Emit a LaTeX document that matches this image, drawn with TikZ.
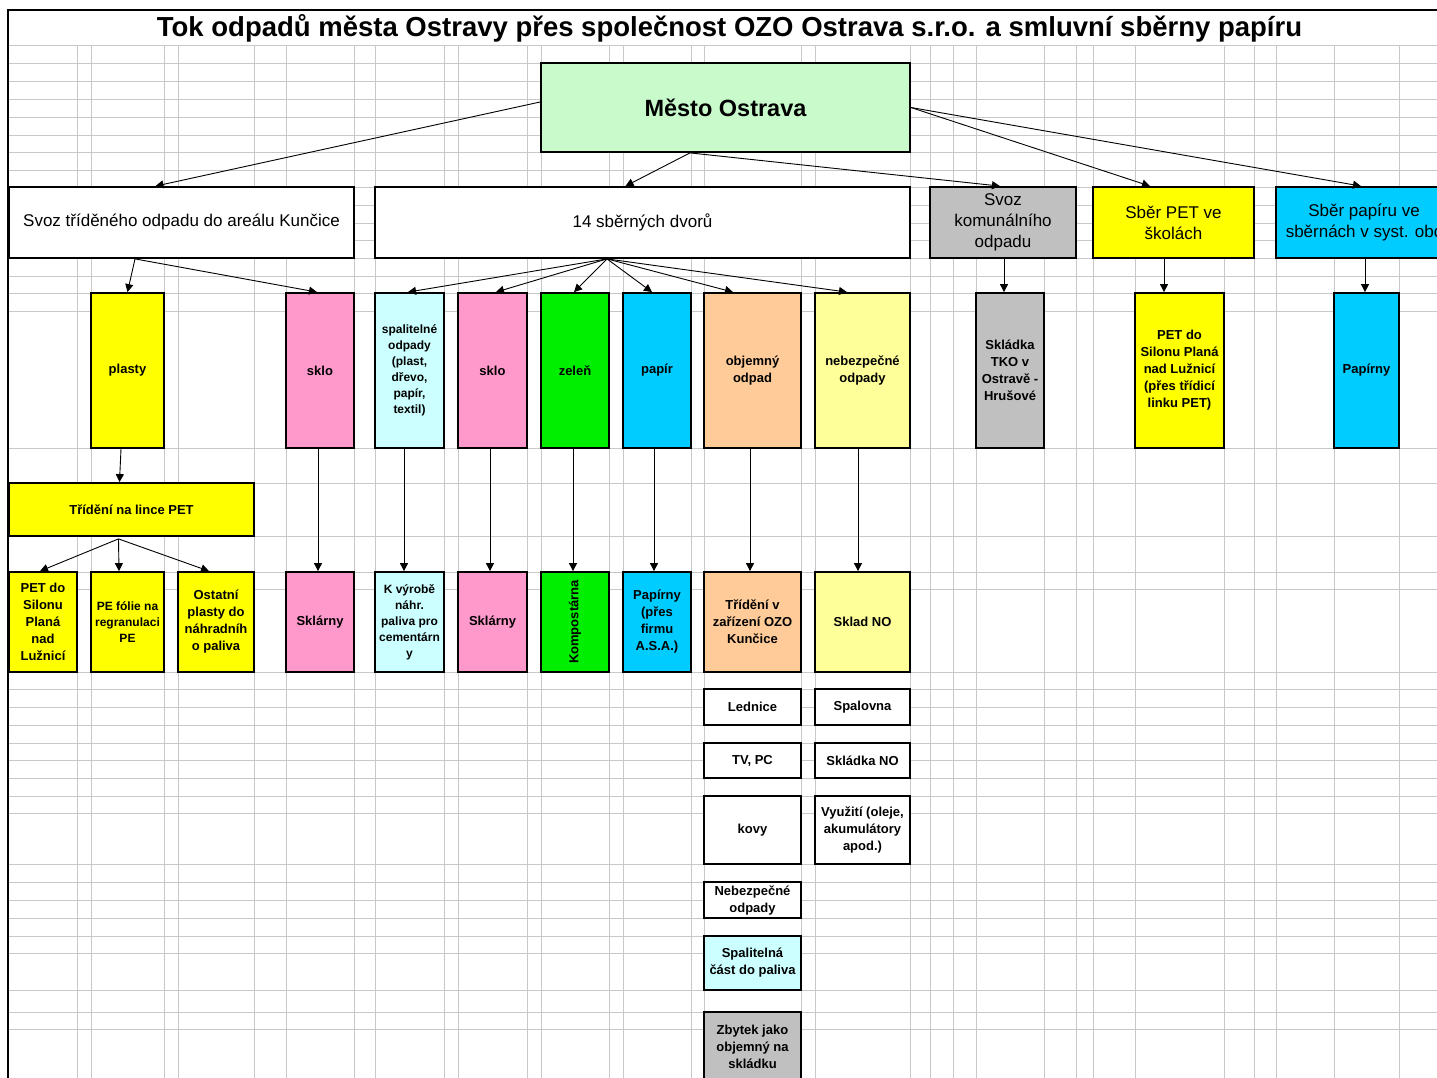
\documentclass[tikz,border=0pt]{standalone}
\usepackage{fontspec}
\setmainfont{Liberation Sans}
\usetikzlibrary{arrows.meta,calc}
\definecolor{cgreenl}{HTML}{C8FACC}
\definecolor{cgray}{HTML}{C0C0C0}
\definecolor{cyel}{HTML}{FFFF00}
\definecolor{ccyan}{HTML}{00CCFF}
\definecolor{cpink}{HTML}{FF99CC}
\definecolor{ccyanl}{HTML}{CCFFFF}
\definecolor{cgreen}{HTML}{00EE00}
\definecolor{cpeach}{HTML}{FFCC99}
\definecolor{cyell}{HTML}{FFFF99}
\definecolor{cgrid}{HTML}{C8C8C8}
\begin{document}
\begin{tikzpicture}[x=1pt,y=-1pt,
  gridline/.style={draw=cgrid, line width=0.9pt},
  box/.style={draw=black, line width=1.8pt, inner sep=1pt, align=center,
    font=\bfseries\fontsize{13}{17}\selectfont, text=black},
  smallbox/.style={box, font=\bfseries\fontsize{12}{16}\selectfont},
  headbox/.style={box, font=\fontsize{17}{21}\selectfont},
  sz/.style 2 args={minimum width=#1pt, minimum height=#2pt},
  arr/.style={draw=black, line width=0.9pt, -{Triangle[length=8pt,width=8pt]}}]
\useasboundingbox (0,0) rectangle (1437,1078);
\clip (0,0) rectangle (1437,1078);
\fill[white] (0,0) rectangle (1437,1078);
% spreadsheet grid
\foreach \gy in {45,63,81,99,117,135,152,170,187,205,223,240,258,276,293,311,448,483,536,572,589,672,689,707,725,743,760,778,796,813,864,882,900,918,936,953,990,1012,1029}
  \draw[gridline] (8,\gy) -- (1437,\gy);
\foreach \gx in {77,91,164,178,254,286,354,375,444,458,527,541,609,623,691,704,801,815,910,930,953,976,1044,1076,1093,1135,1224,1254,1276,1334,1399}
  \draw[gridline] (\gx,45) -- (\gx,1078);
\draw[line width=2pt] (8,1078) -- (8,10) -- (1437,10);
% title
\node[anchor=base, inner sep=0, font=\bfseries\fontsize{27.5}{32}\selectfont] (title) at (729.5,37)
  {Tok odpadů města Ostravy přes společnost OZO Ostrava s.r.o. a smluvní sběrny papíru};
% top
\node[box, sz={369}{89}, fill=cgreenl, font=\bfseries\fontsize{23.5}{28}\selectfont] (mesto) at (725.5,107.5) {Město Ostrava};
% row 2
\node[headbox, sz={345}{71}, fill=white] (svozt) at (181.5,222.5) {Svoz tříděného odpadu do areálu Kunčice};
\node[headbox, sz={535}{71}, fill=white] (dvory) at (642.5,222.5) {14 sběrných dvorů};
\node[headbox, sz={146}{71}, fill=cgray] (komun) at (1003,222.5) {Svoz\\komunálního\\odpadu};
\node[headbox, sz={161}{71}, fill=cyel] (petsk) at (1173.5,222.5) {Sběr PET ve\\školách};
\node[headbox, sz={176}{71}, fill=ccyan] (papsb) at (1364,222.5) {Sběr papíru ve\\sběrnách v syst. obc};
% row 3
\node[box, sz={73}{155}, fill=cyel] (plasty) at (127.5,370.5) {plasty};
\node[box, sz={68}{155}, fill=cpink] (sklo1) at (320,370.5) {sklo};
\node[smallbox, sz={69}{155}, fill=ccyanl] (spal) at (409.5,370.5) {spalitelné\\odpady\\(plast,\\dřevo,\\papír,\\textil)};
\node[box, sz={69}{155}, fill=cpink] (sklo2) at (492.5,370.5) {sklo};
\node[box, sz={68}{155}, fill=cgreen] (zelen) at (575,370.5) {zeleň};
\node[box, sz={68}{155}, fill=ccyan] (papir) at (657,370.5) {papír};
\node[box, sz={97}{155}, fill=cpeach] (objem) at (752.5,370.5) {objemný\\odpad};
\node[box, sz={95}{155}, fill=cyell] (nebez) at (862.5,370.5) {nebezpečné\\odpady};
\node[box, sz={68}{155}, fill=cgray] (skladka) at (1010,370.5) {Skládka\\TKO v\\Ostravě -\\Hrušové};
\node[box, sz={89}{155}, fill=cyel] (petsil) at (1179.5,370.5) {PET do\\Silonu Planá\\nad Lužnicí\\(přes třídicí\\linku PET)};
\node[box, sz={65}{155}, fill=ccyan] (papirny) at (1366.5,370.5) {Papírny};
% PET line
\node[box, sz={245}{53}, fill=cyel] (trideni) at (131.5,509.5) {Třídění na lince PET};
% row 4
\node[box, sz={68}{100}, fill=cyel] (petsilon) at (43,622) {PET do\\Silonu\\Planá\\nad\\Lužnicí};
\node[smallbox, sz={73}{100}, fill=cyel] (pefolie) at (127.5,622) {PE fólie na\\regranulaci\\PE};
\node[box, sz={76}{100}, fill=cyel] (ostatni) at (216,622) {Ostatní\\plasty do\\náhradníh\\o paliva};
\node[box, sz={68}{100}, fill=cpink] (sklarny1) at (320,622) {Sklárny};
\node[smallbox, sz={69}{100}, fill=ccyanl] (kvyrobe) at (409.5,622) {K výrobě\\náhr.\\paliva pro\\cementárn\\y};
\node[box, sz={69}{100}, fill=cpink] (sklarny2) at (492.5,622) {Sklárny};
\node[box, sz={100}{68}, fill=cgreen, rotate=90] (kompost) at (575,622) {Kompostárna};
\node[box, sz={68}{100}, fill=ccyan] (papirny2) at (657,622) {Papírny\\(přes\\firmu\\A.S.A.)};
\node[box, sz={97}{100}, fill=cpeach] (trideniozo) at (752.5,622) {Třídění v\\zařízení OZO\\Kunčice};
\node[box, sz={95}{100}, fill=cyell] (skladno) at (862.5,622) {Sklad NO};
% lower boxes
\node[box, sz={97}{36}, fill=white] (lednice) at (752.5,707) {Lednice};
\node[box, sz={97}{35}, fill=white] (tvpc) at (752.5,760.5) {TV, PC};
\node[box, sz={97}{68}, fill=white] (kovy) at (752.5,830) {kovy};
\node[box, sz={97}{36}, fill=white] (nebodp) at (752.5,900) {Nebezpečné\\odpady};
\node[box, sz={97}{54}, fill=ccyanl] (spalcast) at (752.5,963) {Spalitelná\\část do paliva};
\node[box, sz={97}{70}, fill=cgray] (zbytek) at (752.5,1047) {Zbytek jako\\objemný na\\skládku};
\node[box, sz={95}{36}, fill=white] (spalovna) at (862.5,707) {Spalovna};
\node[box, sz={95}{35}, fill=white] (skladkano) at (862.5,760.5) {Skládka NO};
\node[box, sz={95}{68}, fill=white] (vyuziti) at (862.5,830) {Využití (oleje,\\akumulátory\\apod.)};
% connectors from Mesto
\draw[arr] ([yshift=5.5pt]mesto.west) -- ([xshift=-26pt]svozt.north);
\draw[arr] ([xshift=-35.5pt]mesto.south) -- ([xshift=-17pt]dvory.north);
\draw[arr] ([xshift=-35.5pt]mesto.south) -- ([xshift=-3pt]komun.north);
\draw[arr] (mesto.east) -- ([xshift=-23.5pt]petsk.north);
\draw[arr] (mesto.east) -- ([xshift=-3pt]papsb.north);
% from Svoz tříděného
\draw[arr] ([xshift=-46.5pt]svozt.south) -- (plasty.north);
\draw[arr] ([xshift=-46.5pt]svozt.south) -- ([xshift=-3pt]sklo1.north);
% from 14 dvorů
\draw[arr] ([xshift=-35.5pt]dvory.south) -- ([xshift=-1.5pt]spal.north);
\draw[arr] ([xshift=-35.5pt]dvory.south) -- ([xshift=3.5pt]sklo2.north);
\draw[arr] ([xshift=-35.5pt]dvory.south) -- ([xshift=-1pt]zelen.north);
\draw[arr] ([xshift=-35.5pt]dvory.south) -- ([xshift=-5pt]papir.north);
\draw[arr] ([xshift=-35.5pt]dvory.south) -- ([xshift=-19.5pt]objem.north);
\draw[arr] ([xshift=-35.5pt]dvory.south) -- ([xshift=-15.5pt]nebez.north);
% right columns
\draw[arr] ([xshift=1pt]komun.south) -- ([xshift=-6pt]skladka.north);
\draw[arr] ([xshift=-9.5pt]petsk.south) -- ([xshift=-15.5pt]petsil.north);
\draw[arr] ([xshift=1pt]papsb.south) -- ([xshift=-1.5pt]papirny.north);
% plasty chain
\draw[arr] ([xshift=-6.5pt]plasty.south) -- ([xshift=-12pt]trideni.north);
\draw[arr] ([xshift=-13pt,yshift=-2pt]trideni.south) -- ([xshift=-3pt]petsilon.north);
\draw[arr] ([xshift=-13pt,yshift=-2pt]trideni.south) -- ([xshift=-8.5pt]pefolie.north);
\draw[arr] ([xshift=-13pt,yshift=-2pt]trideni.south) -- ([xshift=-7pt]ostatni.north);
% vertical flows
\draw[arr] ([xshift=-2pt]sklo1.south) -- ([xshift=-2pt]sklarny1.north);
\draw[arr] ([xshift=-5.5pt]spal.south) -- ([xshift=-5.5pt]kvyrobe.north);
\draw[arr] ([xshift=-2.5pt]sklo2.south) -- ([xshift=-2.5pt]sklarny2.north);
\draw[arr] ([xshift=-2pt]zelen.south) -- ([xshift=-2pt]kompost.east);
\draw[arr] ([xshift=-3pt]papir.south) -- ([xshift=-3pt]papirny2.north);
\draw[arr] ([xshift=-2.5pt]objem.south) -- ([xshift=-2.5pt]trideniozo.north);
\draw[arr] ([xshift=-4.5pt]nebez.south) -- ([xshift=-4.5pt]skladno.north);
\end{tikzpicture}
\end{document}
